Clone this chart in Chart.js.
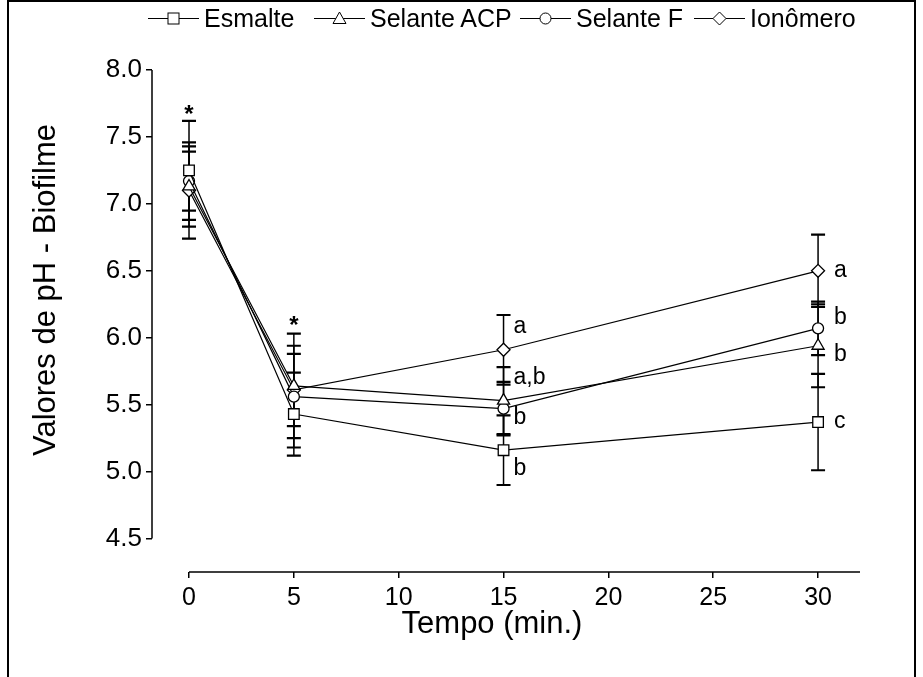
<!DOCTYPE html>
<html>
    <head>
        <title>pH Biofilme</title>
        <script src="https://cdn.jsdelivr.net/npm/chart.js@4.4.1/dist/chart.umd.min.js"></script>
        <style>
            body { margin: 0; background: #fff; }
            #wrap { position: relative; width: 923px; height: 677px; }
            #legenda { position: absolute; top: 3px; left: 0; width: 923px; height: 30px;
                font-family: "Liberation Sans", Arial, sans-serif; font-size: 25px; color: #000; }
            .item { position: absolute; top: 0; display: flex; align-items: center; height: 30px; }
            .item svg { margin-right: 5px; }
        </style>
    </head>
    <body>
        <div id="wrap">
            <canvas id="myChart" width="923" height="677"></canvas>
            <div id="legenda"></div>
        </div>

        <script>
            // valores
            const tempos = [0, 5, 15, 30];
            const nomes = ['Esmalte', 'Selante ACP', 'Selante F', 'Ionômero'];
            const marcadores = ['rect', 'triangle', 'circle', 'rectRot'];

            const esmalte = [7.25, 5.43, 5.16, 5.37];
            const esmalteDP = [0.37, 0.31, 0.26, 0.36];
            const selanteACP = [7.13, 5.64, 5.53, 5.94];
            const selanteACPDP = [0.30, 0.39, 0.25, 0.31];
            const selanteF = [7.17, 5.56, 5.47, 6.07];
            const selanteFDP = [0.22, 0.38, 0.20, 0.20];
            const ionomero = [7.10, 5.61, 5.91, 6.50];
            const ionomeroDP = [0.36, 0.27, 0.26, 0.27];

            const yTicks = [4.5, 5.0, 5.5, 6.0, 6.5, 7.0, 7.5, 8.0];
            const xTicks = [0, 5, 10, 15, 20, 25, 30];
            const tituloX = 'Tempo (min.)';
            const tituloY = 'Valores de pH - Biofilme';

            // letras de significancia e asteriscos
            const letrasX = [15, 15, 15, 15, 30, 30, 30, 30];
            const letrasY = [6.08, 5.70, 5.40, 5.02, 6.50, 6.15, 5.87, 5.37];
            const letras = ['a', 'a,b', 'b', 'b', 'a', 'b', 'b', 'c'];
            const asteriscoX = [0, 5];
            const asteriscoY = [7.70, 6.12];

            const medias = [esmalte, selanteACP, selanteF, ionomero];
            const desvios = [esmalteDP, selanteACPDP, selanteFDP, ionomeroDP];
            const raios = [7.5, 7, 5.5, 6.5];

            const fonte = '"Liberation Sans", Arial, sans-serif';

            // legenda em html
            function icone(tipo) {
                let m = '';
                if (tipo == 'rect') m = '<rect x="20" y="7" width="11" height="11" fill="#fff" stroke="#000"/>';
                if (tipo == 'triangle') m = '<polygon points="25.5,6 32,17.5 19,17.5" fill="#fff" stroke="#000"/>';
                if (tipo == 'circle') m = '<circle cx="25.5" cy="12.5" r="5.5" fill="#fff" stroke="#000"/>';
                if (tipo == 'rectRot') m = '<polygon points="25.5,6 32,12.5 25.5,19 19,12.5" fill="#fff" stroke="#000"/>';
                return '<svg width="51" height="25"><line x1="0" y1="12.5" x2="51" y2="12.5" stroke="#000"/>' + m + '</svg>';
            }
            const legendaX = [148, 314, 520, 694];
            let html = '';
            for (ix in nomes) {
                html += '<div class="item" style="left:' + legendaX[ix] + 'px">' + icone(marcadores[ix]) + '<span>' + nomes[ix] + '</span></div>';
            }
            document.getElementById('legenda').innerHTML = html;

            const extras = {
                id: 'extras',
                beforeDatasetsDraw(chart) {
                    const ctx = chart.ctx;
                    const xs = chart.scales.x, ys = chart.scales.y;
                    ctx.save();
                    ctx.strokeStyle = '#000';
                    // barras de erro
                    for (let s = 0; s < medias.length; s++) {
                        for (let i = 0; i < tempos.length; i++) {
                            const px = xs.getPixelForValue(tempos[i]);
                            const top = ys.getPixelForValue(medias[s][i] + desvios[s][i]);
                            const bot = ys.getPixelForValue(medias[s][i] - desvios[s][i]);
                            ctx.lineWidth = 1.5;
                            ctx.beginPath();
                            ctx.moveTo(px, top); ctx.lineTo(px, bot);
                            ctx.stroke();
                            ctx.lineWidth = 2.2;
                            ctx.beginPath();
                            ctx.moveTo(px - 7, top); ctx.lineTo(px + 7, top);
                            ctx.moveTo(px - 7, bot); ctx.lineTo(px + 7, bot);
                            ctx.stroke();
                        }
                    }
                    ctx.restore();
                },
                afterDraw(chart) {
                    const ctx = chart.ctx;
                    const xs = chart.scales.x, ys = chart.scales.y;
                    const area = chart.chartArea;
                    ctx.save();
                    ctx.strokeStyle = '#000';
                    ctx.fillStyle = '#000';
                    // eixos
                    ctx.lineWidth = 1.5;
                    ctx.beginPath();
                    ctx.moveTo(area.left, ys.getPixelForValue(yTicks[0]));
                    ctx.lineTo(area.left, ys.getPixelForValue(yTicks[yTicks.length - 1]));
                    ctx.moveTo(xs.getPixelForValue(xTicks[0]), area.bottom);
                    ctx.lineTo(area.right, area.bottom);
                    ctx.stroke();
                    // moldura
                    ctx.lineWidth = 2;
                    ctx.strokeRect(8, 1, 907, 690);
                    // titulos dos eixos
                    ctx.font = '31px ' + fonte;
                    ctx.textAlign = 'center';
                    ctx.textBaseline = 'middle';
                    ctx.fillText(tituloX, 492, 624);
                    ctx.save();
                    ctx.translate(46, 290);
                    ctx.rotate(-Math.PI / 2);
                    ctx.fillText(tituloY, 0, 0);
                    ctx.restore();
                    // letras
                    ctx.font = '23px ' + fonte;
                    ctx.textAlign = 'left';
                    for (let i = 0; i < letras.length; i++) {
                        const dx = letrasX[i] == 30 ? 16 : 10;
                        ctx.fillText(letras[i], xs.getPixelForValue(letrasX[i]) + dx, ys.getPixelForValue(letrasY[i]));
                    }
                    ctx.font = 'bold 24px ' + fonte;
                    ctx.textAlign = 'center';
                    for (let i = 0; i < asteriscoX.length; i++) {
                        ctx.fillText('*', xs.getPixelForValue(asteriscoX[i]), ys.getPixelForValue(asteriscoY[i]) + 5);
                    }
                    ctx.restore();
                }
            };

            const ctx = document.getElementById('myChart');
            const myChart = new Chart(ctx, {
                type: 'line',
                data: {
                    datasets: medias.map(function(m, s) {
                        return {
                            label: nomes[s],
                            data: tempos.map(function(t, i) { return {x: t, y: m[i]}; }),
                            borderColor: '#000',
                            borderWidth: 1.2,
                            pointStyle: marcadores[s],
                            pointRadius: raios[s],
                            pointBackgroundColor: '#fff',
                            pointBorderColor: '#000',
                            pointBorderWidth: 1.3,
                            tension: 0
                        };
                    })
                },
                options: {
                    responsive: false,
                    animation: false,
                    events: [],
                    layout: { padding: { top: 70, right: 63, left: 0, bottom: 0 } },
                    plugins: { legend: { display: false }, tooltip: { enabled: false } },
                    scales: {
                        x: {
                            type: 'linear',
                            min: -1.765,
                            max: 32,
                            afterBuildTicks: function(scale) { scale.ticks = xTicks.map(function(v) { return {value: v}; }); },
                            afterFit: function(scale) { scale.height = 105; },
                            border: { display: false },
                            grid: { drawOnChartArea: false, drawTicks: true, tickLength: 6, color: '#000', lineWidth: 1.5 },
                            ticks: { color: '#000', padding: 5, font: { family: '"Liberation Sans Narrow", "Liberation Sans", Arial', size: 25 } }
                        },
                        y: {
                            min: 4.25,
                            max: 8.0,
                            afterBuildTicks: function(scale) { scale.ticks = yTicks.map(function(v) { return {value: v}; }); },
                            afterFit: function(scale) { scale.width = 152; },
                            border: { display: false },
                            grid: { drawOnChartArea: false, drawTicks: true, tickLength: 6, color: '#000', lineWidth: 1.5 },
                            ticks: { color: '#000', padding: 4, font: { family: fonte, size: 26 }, callback: function(v) { return v.toFixed(1); } }
                        }
                    }
                },
                plugins: [extras]
            });
        </script>
    </body>
</html>
